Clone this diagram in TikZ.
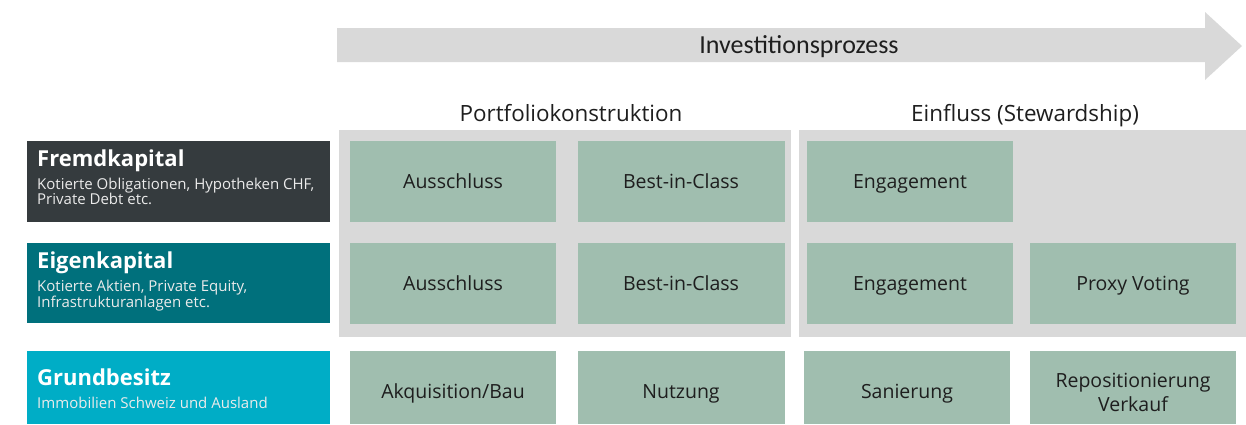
\documentclass[tikz,border=0pt]{standalone}
\usepackage{fontspec}
\setmainfont{Open Sans}
\newfontfamily\arrowfont{Carlito}
\definecolor{panelgrey}{HTML}{D9D9D9}
\definecolor{boxgreen}{HTML}{A0BEAF}
\definecolor{darkgrey}{HTML}{353B3E}
\definecolor{tealbox}{HTML}{00707C}
\definecolor{cyanbox}{HTML}{00ADC6}
\definecolor{txt}{HTML}{1E1E1E}
\begin{document}
\begin{tikzpicture}[x=1pt,y=-1pt,
  gbox/.style={fill=boxgreen,draw=none},
  panel/.style={fill=panelgrey,draw=none},
  labtwo/.style={font=\fontsize{19.5}{24}\selectfont,text=txt,align=center},
  lab/.style={labtwo,text height=13.9pt,text depth=0pt},
  head/.style={font=\fontsize{22.4}{24}\selectfont,text=txt,text height=16pt,text depth=0pt},
  cattitle/.style={font=\fontsize{22}{24}\selectfont\bfseries,text=white,anchor=base west,inner sep=0pt},
  catsub/.style={font=\fontsize{15}{15}\selectfont,text=white!92!black,anchor=north west,align=left,inner sep=0pt}]
\useasboundingbox (0,0) rectangle (1246,424);
% process arrow
\fill[panelgrey] (337,28) -- (1205,28) -- (1205,12) -- (1242,46) -- (1205,80) -- (1205,62) -- (337,62) -- cycle;
\node[font=\arrowfont\fontsize{26}{28}\selectfont,text=txt,text height=16.7pt,text depth=0pt] (proc) at (799,45) {Investitionsprozess};
% panels
\fill[panel] (339,130) rectangle (791,337);
\fill[panel] (799,130) rectangle (1246,337);
\node[head] (pk) at (571,113) {Portfoliokonstruktion};
\node[head] (ef) at (1025,113) {Einfluss (Stewardship)};
% category boxes
\fill[darkgrey] (27,141) rectangle (330,222);
\fill[tealbox] (27,243) rectangle (330,323);
\fill[cyanbox] (27,351) rectangle (330,424);
\node[cattitle] (fk) at (37,166) {Fremdkapital};
\node[catsub] (fks) at (37,177.5) {Kotierte Obligationen, Hypotheken CHF,\\Private Debt etc.};
\node[cattitle] (ek) at (37,268) {Eigenkapital};
\node[catsub] (eks) at (37,279.5) {Kotierte Aktien, Private Equity,\\Infrastrukturanlagen etc.};
\node[cattitle] (gb) at (37,385) {Grundbesitz};
\node[catsub] (gbs) at (37,396.5) {Immobilien Schweiz und Ausland};
% green boxes
\fill[gbox] (350,141) rectangle (556,222);
\fill[gbox] (578,141) rectangle (785,222);
\fill[gbox] (807,141) rectangle (1013,222);
\fill[gbox] (350,243) rectangle (556,324);
\fill[gbox] (578,243) rectangle (785,324);
\fill[gbox] (807,243) rectangle (1013,324);
\fill[gbox] (1030,243) rectangle (1236,324);
\fill[gbox] (350,351) rectangle (556,424);
\fill[gbox] (578,351) rectangle (785,424);
\fill[gbox] (804,351) rectangle (1010,424);
\fill[gbox] (1030,351) rectangle (1236,424);
\node[lab] (a1) at (453,182) {Ausschluss};
\node[lab] (b1) at (681,182) {Best-in-Class};
\node[lab] (e1) at (910,182) {Engagement};
\node[lab] (a2) at (453,284) {Ausschluss};
\node[lab] (b2) at (681,284) {Best-in-Class};
\node[lab] (e2) at (910,284) {Engagement};
\node[lab] (p2) at (1133,284) {Proxy Voting};
\node[lab] (a3) at (453,392) {Akquisition/Bau};
\node[lab] (n3) at (681,392) {Nutzung};
\node[lab] (s3) at (907,392) {Sanierung};
\node[labtwo] (r3) at (1133,392) {Repositionierung\\Verkauf};
\end{tikzpicture}
\end{document}
